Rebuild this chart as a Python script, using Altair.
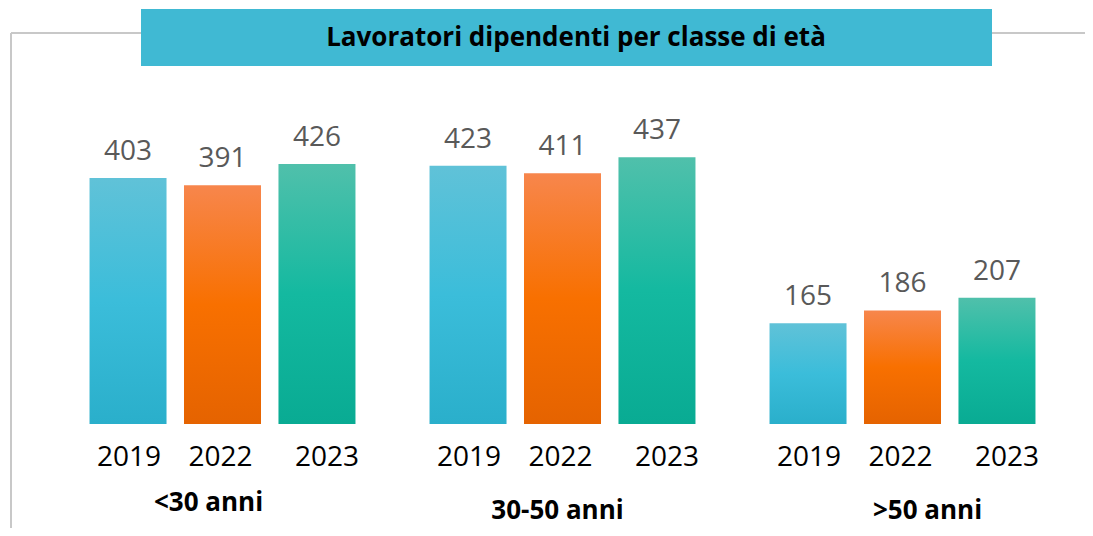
import altair as alt
import pandas as pd

groups = ["<30 anni", "30-50 anni", ">50 anni"]
years = ["2019", "2022", "2023"]
values = {
    "2019": [403, 423, 165],
    "2022": [391, 411, 186],
    "2023": [426, 437, 207],
}
title_text = "Lavoratori dipendenti per classe di età"

rows = []
for y in years:
    for g, v in zip(groups, values[y]):
        rows.append({"group": g, "year": y, "value": v})
df = pd.DataFrame(rows)

FONT = "Open Sans"
gradients = {
    "2019": ["#60C2D8", "#3BBDDA", "#2AAFCB"],
    "2022": ["#F7864C", "#F87000", "#E56300"],
    "2023": ["#50C0AB", "#14B9A0", "#09AB93"],
}
year_dx = {"2019": 1, "2022": -2, "2023": 10}
group_style = {"<30 anni": (-14, 495), "30-50 anni": (-5, 503), ">50 anni": (25, 503)}

x_enc = alt.X("group:N", sort=groups, axis=None,
              scale=alt.Scale(range=[44.5, 1064.5], paddingInner=0, paddingOuter=0))
xo_enc = alt.XOffset("year:N", sort=years,
                     scale=alt.Scale(paddingInner=0.185, paddingOuter=0.392))
y_scale = alt.Scale(domain=[0, 600], range=[416, 49.8])

base = alt.Chart(df)
layers = []

# decorative frame lines
layers.append(alt.Chart(pd.DataFrame({"a": [0]})).mark_rule(color="#C8C8C8", strokeWidth=2).encode(
    x=alt.value(3), x2=alt.value(3), y=alt.value(25), y2=alt.value(530)))
layers.append(alt.Chart(pd.DataFrame({"a": [0]})).mark_rule(color="#C8C8C8", strokeWidth=2).encode(
    x=alt.value(3), x2=alt.value(1085), y=alt.value(25), y2=alt.value(25)))
# title box
layers.append(alt.Chart(pd.DataFrame({"a": [0]})).mark_rect(color="#40B9D3").encode(
    x=alt.value(133), x2=alt.value(984), y=alt.value(1), y2=alt.value(58)))
layers.append(alt.Chart(pd.DataFrame({"t": [title_text]})).mark_text(
    font=FONT, fontSize=26, fontWeight="bold", color="#000000", baseline="middle", align="center").encode(
    x=alt.value(568), y=alt.value(30), text="t:N"))

for yr in years:
    c0, c1, c2 = gradients[yr]
    grad = {"gradient": "linear", "x1": 0, "y1": 0, "x2": 0, "y2": 1,
            "stops": [{"offset": 0, "color": c0}, {"offset": 0.5, "color": c1},
                      {"offset": 1, "color": c2}]}
    sub = base.transform_filter(alt.datum.year == yr)
    layers.append(sub.mark_bar(fill=grad, width=77).encode(
        x=x_enc, xOffset=xo_enc,
        y=alt.Y("value:Q", scale=y_scale, axis=None)))
    layers.append(sub.mark_text(font=FONT, fontSize=28, color="#595959", baseline="alphabetic",
                                dy=-18).encode(
        x=x_enc, xOffset=xo_enc,
        y=alt.Y("value:Q", scale=y_scale, axis=None), text="value:Q"))
    layers.append(sub.mark_text(font=FONT, fontSize=28, color="#000000", baseline="middle",
                                dx=year_dx[yr]).encode(
        x=x_enc, xOffset=xo_enc, y=alt.value(450), text="year:N"))

gdf = pd.DataFrame({"group": groups})
gl = alt.Chart(gdf)
for g in groups:
    dx, yy = group_style[g]
    layers.append(gl.transform_filter(alt.datum.group == g).mark_text(
        font=FONT, fontSize=26, fontWeight="bold", color="#000000", baseline="middle", dx=dx).encode(
        x=x_enc, y=alt.value(yy), text="group:N"))

chart = alt.layer(*layers).properties(
    width=1077, height=520, padding=0,
    autosize=alt.AutoSizeParams(type="fit", contains="padding"),
).configure_view(stroke=None).resolve_scale(x="shared")

chart.save("out.html", embed_options={"renderer": "svg", "actions": False})
